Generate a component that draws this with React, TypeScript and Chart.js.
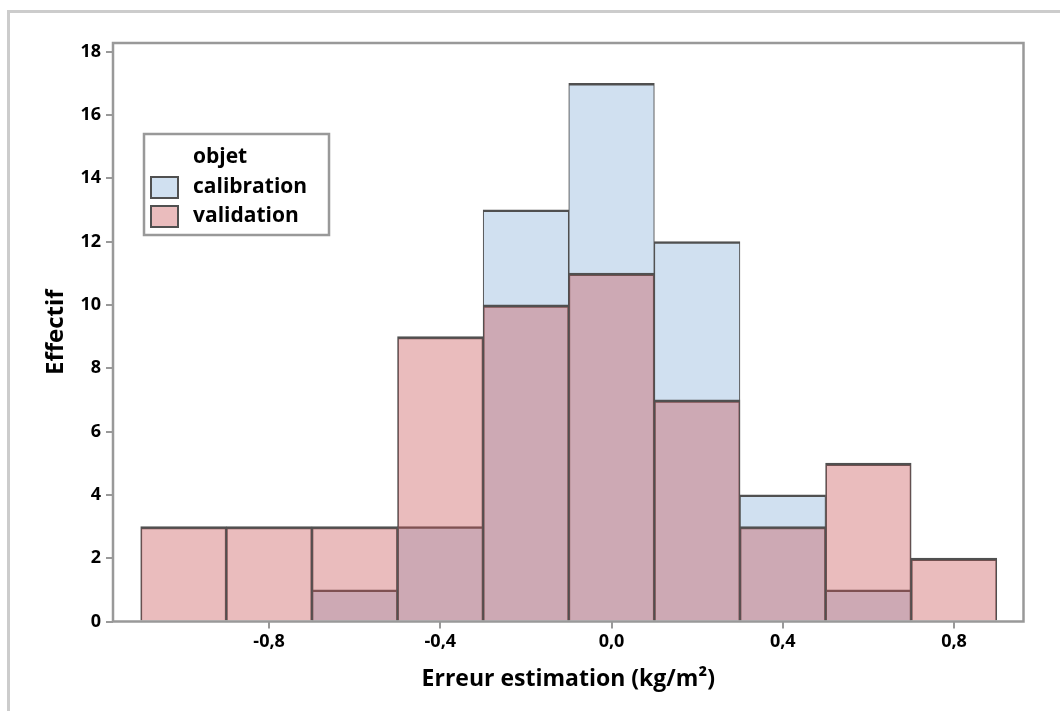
import React, { useEffect, useRef } from "react";
import { Chart, registerables } from "chart.js";

Chart.register(...registerables);

// ---- data ----
const binCenters = [-1.0, -0.8, -0.6, -0.4, -0.2, 0.0, 0.2, 0.4, 0.6, 0.8];
const calibration = [0, 0, 1, 3, 13, 17, 12, 4, 1, 0];
const validation = [3, 3, 3, 9, 10, 11, 7, 3, 5, 2];
const xTicks = [-0.8, -0.4, 0.0, 0.4, 0.8];
const yTicks = [0, 2, 4, 6, 8, 10, 12, 14, 16, 18];
const seriesNames = ["calibration", "validation"];
const legendTitle = "objet";
const xTitle = "Erreur estimation (kg/m²)";
const yTitle = "Effectif";

const FONT = '"Open Sans", "Noto Sans", sans-serif';
const EDGE = "#505050";
const FRAME = "#999999";
const CAL_FILL = "#d0e0f0";
const VAL_FILL = "rgba(200, 82, 85, 0.39)";

const fmt = (v: number) => v.toFixed(1).replace(".", ",");

const decorPlugin = {
  id: "decor",
  beforeDraw(chart: any) {
    const ctx = chart.ctx;
    ctx.save();
    ctx.fillStyle = "#ffffff";
    ctx.fillRect(0, 0, chart.width, chart.height);
    ctx.fillStyle = "#cccccc";
    ctx.fillRect(7, 10, chart.width - 7, 3);
    ctx.fillRect(7, 10, 3, chart.height - 10);
    ctx.restore();
  },
  afterDatasetsDraw(chart: any) {
    const ctx = chart.ctx;
    const a = chart.chartArea;
    ctx.save();
    ctx.strokeStyle = FRAME;
    ctx.lineWidth = 2.5;
    ctx.strokeRect(a.left, a.top, a.right - a.left, a.bottom - a.top);
    ctx.restore();
  },
  afterDraw(chart: any) {
    const ctx = chart.ctx;
    ctx.save();
    // legend box
    ctx.strokeStyle = FRAME;
    ctx.lineWidth = 2.5;
    ctx.strokeRect(144, 134, 185, 101);
    ctx.fillStyle = "#000";
    ctx.font = `700 21px ${FONT}`;
    ctx.textBaseline = "alphabetic";
    ctx.textAlign = "left";
    ctx.fillText(legendTitle, 193, 163);
    chart.data.datasets.forEach((ds: any, i: number) => {
      const y = 176 + i * 29;
      ctx.fillStyle = "#ffffff";
      ctx.fillRect(150, y, 29, 23);
      ctx.fillStyle = ds.backgroundColor;
      ctx.fillRect(150, y, 29, 23);
      ctx.strokeStyle = EDGE;
      ctx.lineWidth = 2;
      ctx.strokeRect(151, y + 1, 27, 21);
      ctx.fillStyle = "#000";
      ctx.fillText(ds.label, 193, y + 17);
    });
    ctx.restore();
  },
};

export default function App() {
  const ref = useRef<HTMLCanvasElement>(null);

  useEffect(() => {
    const canvas = ref.current!;
    const tickFont = { family: FONT, size: 18, weight: "700" as any };
    const grid = {
      display: true,
      drawOnChartArea: false,
      drawTicks: true,
      tickLength: 7,
      color: FRAME,
      lineWidth: 2,
      offset: false,
    };
    const border = { top: 2.5, left: 1.1, right: 1.1, bottom: 0 };
    const chart = new Chart(canvas, {
      type: "bar",
      data: {
        datasets: [
          {
            label: seriesNames[0],
            data: binCenters.map((x, i) => ({ x, y: calibration[i] })),
            backgroundColor: CAL_FILL,
            borderColor: EDGE,
            borderWidth: border,
            borderSkipped: false,
            order: 2,
          },
          {
            label: seriesNames[1],
            data: binCenters.map((x, i) => ({ x, y: validation[i] })),
            backgroundColor: VAL_FILL,
            borderColor: EDGE,
            borderWidth: border,
            borderSkipped: false,
            order: 1,
          },
        ] as any,
      },
      options: {
        animation: false,
        responsive: false,
        layout: { padding: { left: 0, top: 43, right: 36.5, bottom: 0 } },
        datasets: {
          bar: { grouped: false, categoryPercentage: 1, barPercentage: 1 },
        } as any,
        plugins: {
          legend: { display: false },
          tooltip: { enabled: false },
        },
        scales: {
          x: {
            type: "linear",
            min: -1.1647,
            max: 0.9624,
            offset: false,
            afterBuildTicks: (s: any) => {
              s.ticks = xTicks.map((v) => ({ value: v }));
            },
            afterFit: (s: any) => {
              s.height = 89.5;
            },
            ticks: {
              callback: (v: any) => fmt(Number(v)),
              font: tickFont,
              color: "#000",
              padding: 3,
              maxRotation: 0,
              autoSkip: false,
            },
            grid,
            border: { display: false },
            title: {
              display: true,
              text: xTitle,
              color: "#000",
              font: { family: FONT, size: 23, weight: "700" as any },
              padding: { top: 0, bottom: 18 },
            },
          },
          y: {
            type: "linear",
            min: 0,
            max: 18.27,
            afterBuildTicks: (s: any) => {
              s.ticks = yTicks.map((v) => ({ value: v }));
            },
            afterFit: (s: any) => {
              s.width = 113;
            },
            ticks: {
              callback: (v: any) => String(v),
              font: tickFont,
              color: "#000",
              padding: 5,
              autoSkip: false,
            },
            grid,
            border: { display: false },
            title: {
              display: true,
              text: yTitle,
              color: "#000",
              font: { family: FONT, size: 24, weight: "bold" as any },
              padding: { top: 41.5, bottom: 0 },
            },
          },
        } as any,
      },
      plugins: [decorPlugin],
    });
    return () => chart.destroy();
  }, []);

  return (
    <div style={{ position: "fixed", left: 0, top: 0, width: 1060, height: 711 }}>
      <canvas ref={ref} width={1060} height={711} style={{ display: "block" }} />
    </div>
  );
}
